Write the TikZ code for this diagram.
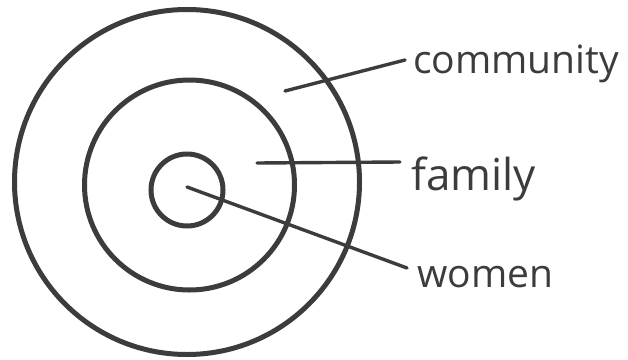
\documentclass[tikz,border=0pt]{standalone}
\usepackage{fontspec}
\setmainfont{Open Sans}
\definecolor{ink}{HTML}{3C3C3C}
\begin{document}
\begin{tikzpicture}[x=1pt,y=-1pt,
  ring/.style={draw=ink, line width=5pt, circle, inner sep=0pt},
  lead/.style={draw=ink, line width=3.4pt, line cap=round},
  lbl/.style={text=ink, anchor=base west, inner sep=0pt, font=\fontsize{39}{39}\selectfont}]
\useasboundingbox (0,0) rectangle (628,359);
\fill[white] (0,0) rectangle (628,359);
\node[ring, minimum size=345pt] (outer) at (187,182) {};
\node[ring, minimum size=210pt] (middle) at (189.5,185) {};
\node[ring, minimum size=72pt] (inner) at (187,190) {};
\coordinate (pc) at (285,91);
\coordinate (pf) at (257,163);
\coordinate (pw) at (187,187);
\node[lbl] (community) at (413,73) {community};
\node[lbl, font=\fontsize{44}{44}\selectfont] (family) at (411,190) {family};
\node[lbl] (women) at (417,287) {women};
\coordinate (ec) at (405,60);
\coordinate (ef) at (400,162);
\coordinate (ew) at (407,268);
\draw[lead] (pc) -- (ec);
\draw[lead] (pf) -- (ef);
\draw[lead] (pw) -- (ew);
\end{tikzpicture}
\end{document}
